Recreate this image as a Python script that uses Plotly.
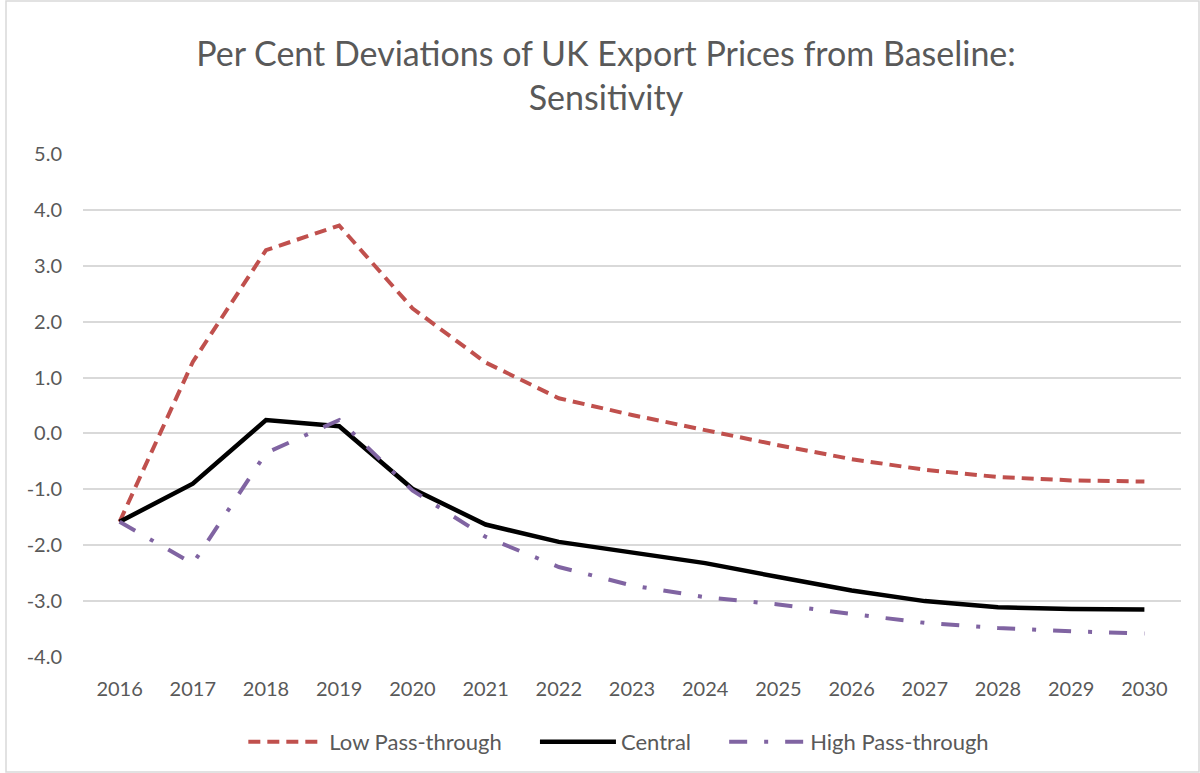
import plotly.graph_objects as go

years = [str(y) for y in range(2016, 2031)]
low_pass = [-1.58, 1.28, 3.28, 3.72, 2.24, 1.27, 0.63, 0.33, 0.06, -0.21, -0.46, -0.65, -0.78, -0.84, -0.86]
central = [-1.58, -0.90, 0.24, 0.13, -0.99, -1.63, -1.94, -2.12, -2.32, -2.57, -2.81, -3.00, -3.11, -3.14, -3.15]
high_pass = [-1.58, -2.33, -0.35, 0.24, -1.02, -1.85, -2.39, -2.72, -2.93, -3.06, -3.23, -3.39, -3.48, -3.54, -3.58]
y_ticks = [5, 4, 3, 2, 1, 0, -1, -2, -3, -4]
y_tick_text = ["5.0", "4.0", "3.0", "2.0", "1.0", "0.0", "-1.0", "-2.0", "-3.0", "-4.0"]

W, H = 1200, 773
ML, MR, MT, MB = 83, 19, 154, 116
font_fam = "Lato, 'Open Sans', sans-serif"
grey = "#595959"
pad = "\u00a0" * 5

fig = go.Figure()
fig.add_trace(go.Scatter(x=years, y=low_pass, mode="lines", name="Low Pass-through" + pad,
                         line=dict(color="#C0504D", width=4, dash="12px,7px")))
fig.add_trace(go.Scatter(x=years, y=central, mode="lines", name="Central" + pad,
                         line=dict(color="#000000", width=4.5)))
fig.add_trace(go.Scatter(x=years, y=high_pass, mode="lines", name="High Pass-through",
                         line=dict(color="#8064A2", width=4, dash="18px,17px,4px,17px")))

pw = W - ML - MR
ph = H - MT - MB
fig.add_shape(type="rect", xref="paper", yref="paper",
              x0=-(ML - 6) / pw, x1=1 + (MR - 1) / pw,
              y0=-(MB - 1) / ph, y1=1 + (MT - 1) / ph,
              line=dict(color="#d9d9d9", width=1.5), layer="below")

fig.update_layout(
    width=W, height=H,
    margin=dict(l=ML, r=MR, t=MT, b=MB, autoexpand=False),
    paper_bgcolor="white", plot_bgcolor="white",
    font=dict(family=font_fam, color=grey, size=20),
    title=dict(text="Per Cent Deviations of UK Export Prices from Baseline:<br>Sensitivity",
               x=0.505, xanchor="center", yref="container", y=1 - 66 / H, yanchor="top",
               font=dict(size=34, color=grey, family=font_fam)),
    showlegend=True,
    legend=dict(orientation="h", x=0.488, xanchor="center", y=-0.127, yanchor="top",
                font=dict(size=22, color=grey), itemwidth=76, tracegroupgap=0),
    xaxis=dict(range=[-0.5, 14.5], showgrid=False, showline=False, zeroline=False, ticks="",
               tickfont=dict(size=20, color=grey), ticklabelstandoff=18, automargin=False),
    yaxis=dict(range=[-4, 5], tickvals=y_ticks, ticktext=y_tick_text,
               showgrid=True, gridcolor="#d9d9d9", gridwidth=1.5, zeroline=False,
               showline=False, ticks="", tickfont=dict(size=20, color=grey),
               ticklabelstandoff=20, automargin=False),
)

fig.write_html("out.html", config={"displayModeBar": False},
               post_script="document.body.style.margin='0';document.body.style.overflow='hidden';")
